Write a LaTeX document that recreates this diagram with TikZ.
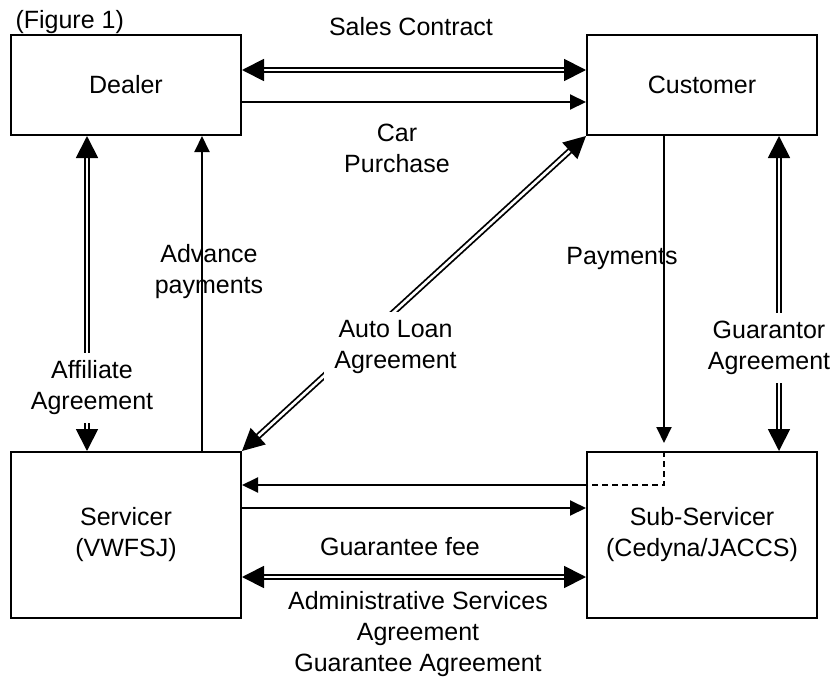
\documentclass[tikz,border=0pt]{standalone}
\usepackage{fontspec}
\setmainfont{Liberation Sans}
\usetikzlibrary{arrows.meta,positioning}

\begin{document}
\begin{tikzpicture}[x=1pt,y=-1pt,
    every node/.style={font=\fontsize{25}{31}\selectfont,align=center},
    party/.style={draw,line width=2pt,minimum width=230pt,inner sep=0pt},
    flow/.style={line width=2pt,-{Triangle[length=16pt,width=15pt]}},
    pact/.style={line width=1.8pt,double,double distance=2.6pt,
      {Triangle[length=22pt,width=22pt]}-{Triangle[length=22pt,width=22pt]}},
    gap/.style={fill=white,inner xsep=10pt,inner ysep=8pt}]
      \useasboundingbox (0,0) rectangle (835,677);

      \node[anchor=west] (fig) at (12,22) {(Figure 1)};

      \node[party,minimum height=100pt] (dealer) at (126,85) {Dealer};
      \node[party,minimum height=100pt] (customer) at (702,85) {Customer};
      \node[party,minimum height=166pt] (servicer) at (126,535) {Servicer\\(VWFSJ)};
      \node[party,minimum height=166pt] (subserv) at (702,535) {Sub-Servicer\\(Cedyna/JACCS)};

      \node (salescon) at (411,27) {Sales Contract};
      \node (carbuy) at (397,148) {Car\\Purchase};
      \node (fee) at (400,547) {Guarantee fee};
      \node (admin) at (418,634) {Administrative Services\\Agreement\\Guarantee Agreement};

      \draw[pact] ([yshift=15pt]dealer.east) -- ([yshift=15pt]customer.west);
      \draw[pact] ([yshift=-42pt]servicer.east) -- ([yshift=-42pt]subserv.west);
      \foreach \from/\to/\dy in {dealer.east/customer.west/-17,servicer.east/subserv.west/27}
      \draw[flow] ([yshift=\dy pt]\from) -- ([yshift=\dy pt]\to);

      \draw[pact] ([xshift=-39pt]dealer.south) -- ([xshift=-39pt]servicer.north)
        node[gap,pos=0.8,xshift=5pt] (affil) {Affiliate\\Agreement};
      \draw[flow] ([xshift=76pt]servicer.north) -- ([xshift=76pt]dealer.south)
        node[pos=0.57,xshift=7pt] (advance) {Advance\\payments};
      \draw[pact] (servicer.north east) -- (customer.south west)
        node[gap,pos=0.33,xshift=40pt] (loan) {Auto Loan\\Agreement};
      \draw[pact] ([xshift=77pt]customer.south) -- ([xshift=77pt]subserv.north)
        node[gap,pos=0.672,xshift=-10pt] (guar) {Guarantor\\Agreement};

      \coordinate (paytip) at ([xshift=-38pt,yshift=8pt]subserv.north);
      \draw[flow] ([xshift=-38pt]customer.south) -- (paytip)
        node[pos=0.4,xshift=-42pt] (pay) {Payments};
      \draw[line width=2pt,dash pattern=on 6pt off 4pt]
        ([xshift=-38pt]subserv.north) |- ([yshift=50pt]subserv.west);
      \draw[flow] ([yshift=50pt]subserv.west) -- ([yshift=50pt]servicer.east);
\end{tikzpicture}
\end{document}
